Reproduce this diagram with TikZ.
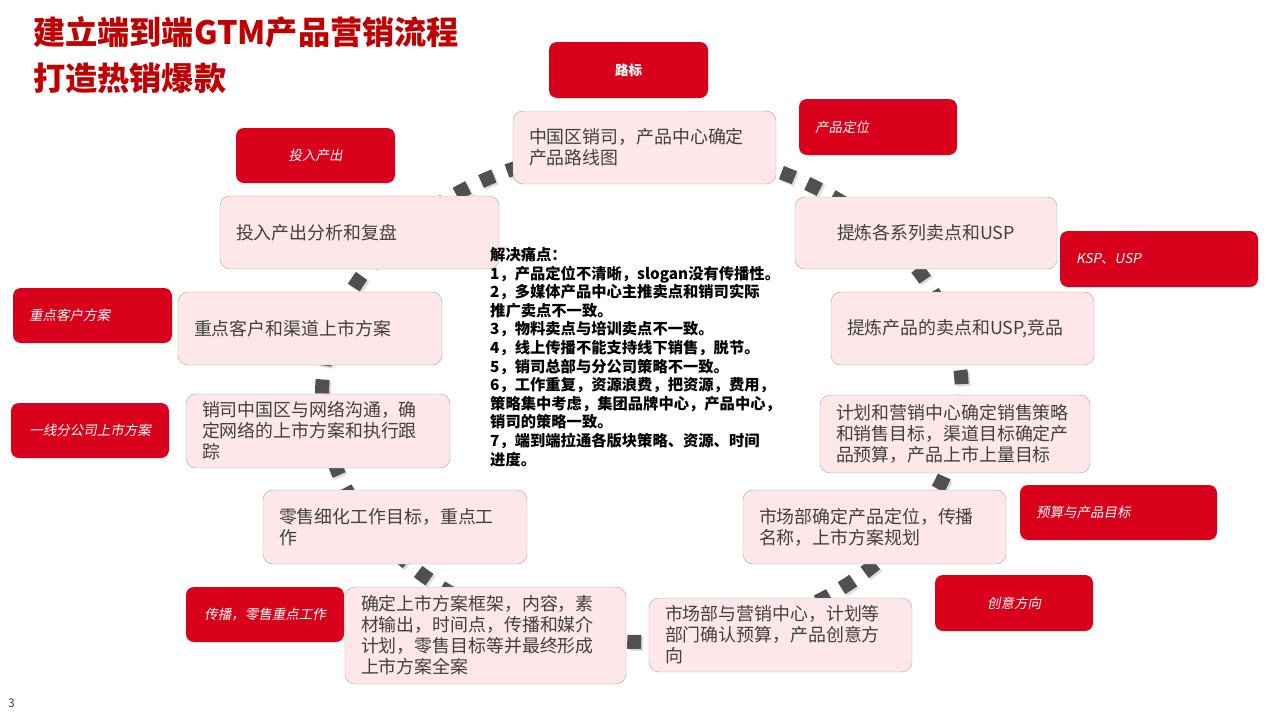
\documentclass[tikz,border=0pt]{standalone}
\usepackage{fontspec}
\setmainfont{Noto Sans CJK SC}
\newfontfamily\cjk{Noto Sans CJK SC}
\newfontfamily\cjkit[FakeSlant=0.2]{Noto Sans CJK SC}
\definecolor{titlered}{HTML}{C00000}
\definecolor{tagred}{HTML}{D8001A}
\definecolor{boxpink}{HTML}{FDE7E8}
\definecolor{boxline}{HTML}{ABA6AA}
\definecolor{boxtext}{HTML}{404040}
\definecolor{ringgray}{HTML}{505050}
\tikzset{
  stepbox/.style={draw=boxline, fill=boxpink, rounded corners=10pt, inner xsep=16pt, inner ysep=0pt,
    align=left, text=boxtext, font=\cjk\fontsize{17.9}{21}\selectfont},
  tagbox/.style={draw=none, fill=tagred, rounded corners=8pt, inner xsep=16pt, inner ysep=0pt,
    text=white, font=\cjkit\fontsize{13.5}{16}\selectfont},
  dashring/.style={line width=14pt, dash pattern=on 14pt off 14pt},
}
\begin{document}
\begin{tikzpicture}[x=1pt,y=-1pt]
\useasboundingbox (0,0) rectangle (1280,720);

% title
\node[anchor=west, inner sep=0pt, text=titlered, font=\cjk\bfseries\fontsize{32.2}{36}\selectfont] (title1) at (33,32) {建立端到端GTM产品营销流程};
\node[anchor=west, inner sep=0pt, text=titlered, font=\cjk\bfseries\fontsize{32.2}{36}\selectfont] (title2) at (33,78) {打造热销爆款};

% ring of dashes behind the steps
\draw[dashring, gray!45, opacity=0.6] (644,397) ellipse [x radius=320, y radius=247];
\draw[dashring, ringgray] (642,395) ellipse [x radius=320, y radius=247];

% steps
\node[stepbox, text width=231pt, minimum height=73pt] (roadmap) at (644.5,147.5) {中国区销司，产品中心确定\\产品路线图};
\node[stepbox, align=center, text width=230pt, minimum height=72pt] (series) at (926,233) {提炼各系列卖点和USP};
\node[stepbox, text width=231pt, minimum height=73pt] (selling) at (962.5,328.5) {提炼产品的卖点和USP,竞品};
\node[stepbox, text width=238pt, minimum height=78pt] (planning) at (955,434) {计划和营销中心确定销售策略\\和销售目标，渠道目标确定产\\品预算，产品上市上量目标};
\node[stepbox, text width=231pt, minimum height=74pt] (position) at (874.5,527) {市场部确定产品定位，传播\\名称，上市方案规划};
\node[stepbox, text width=231pt, minimum height=74pt] (budget) at (780.5,635) {市场部与营销中心，计划等\\部门确认预算，产品创意方\\向};
\node[stepbox, text width=249pt, minimum height=97pt] (framework) at (485.5,635.5) {确定上市方案框架，内容，素\\材输出，时间点，传播和媒介\\计划，零售目标等并最终形成\\上市方案全案};
\node[stepbox, text width=232pt, minimum height=74pt] (retail) at (395,527) {零售细化工作目标，重点工\\作};
\node[stepbox, text width=232pt, minimum height=74pt] (network) at (318,431) {销司中国区与网络沟通，确\\定网络的上市方案和执行跟\\踪};
\node[stepbox, text width=232pt, minimum height=73pt] (keyacct) at (310,328.5) {重点客户和渠道上市方案};
\node[stepbox, text width=247pt, minimum height=73pt] (review) at (359.5,232.5) {投入产出分析和复盘};

% tags
\node[tagbox, font=\cjk\bfseries\fontsize{13.5}{16}\selectfont, minimum width=159pt, minimum height=56pt] (tagroad) at (628.5,70) {路标};
\node[tagbox, align=left, text width=126pt, minimum height=56pt] (tagpos) at (878,127) {产品定位};
\node[tagbox, minimum width=159pt, minimum height=55pt] (tagroi) at (315.5,155.5) {投入产出};
\node[tagbox, align=left, text width=166pt, minimum height=56pt] (tagusp) at (1159,259) {KSP、USP};
\node[tagbox, align=left, text width=127pt, minimum height=55pt] (tagkey) at (92.5,315.5) {重点客户方案};
\node[tagbox, minimum width=158pt, minimum height=55pt] (tagbranch) at (90,430.5) {一线分公司上市方案};
\node[tagbox, align=left, text width=165pt, minimum height=55pt] (tagbudget) at (1118.5,512.5) {预算与产品目标};
\node[tagbox, minimum width=158pt, minimum height=56pt] (tagidea) at (1014,603) {创意方向};
\node[tagbox, minimum width=158pt, minimum height=55pt] (tagspread) at (265,614.5) {传播，零售重点工作};

% pain points
\node[anchor=north west, inner sep=0pt, align=left, font=\cjk\bfseries\fontsize{15.3}{18.6}\selectfont] (pain) at (490,247) {解决痛点：\\
1，产品定位不清晰，slogan没有传播性。\\
2，多媒体产品中心主推卖点和销司实际\\
推广卖点不一致。\\
3，物料卖点与培训卖点不一致。\\
4，线上传播不能支持线下销售，脱节。\\
5，销司总部与分公司策略不一致。\\
6，工作重复，资源浪费，把资源，费用，\\
策略集中考虑，集团品牌中心，产品中心，\\
销司的策略一致。\\
7，端到端拉通各版块策略、资源、时间\\
进度。};

\node[anchor=west, inner sep=0pt, text=boxtext, font=\cjk\fontsize{12}{14}\selectfont] (pagenum) at (8,703) {3};
\end{tikzpicture}
\end{document}
